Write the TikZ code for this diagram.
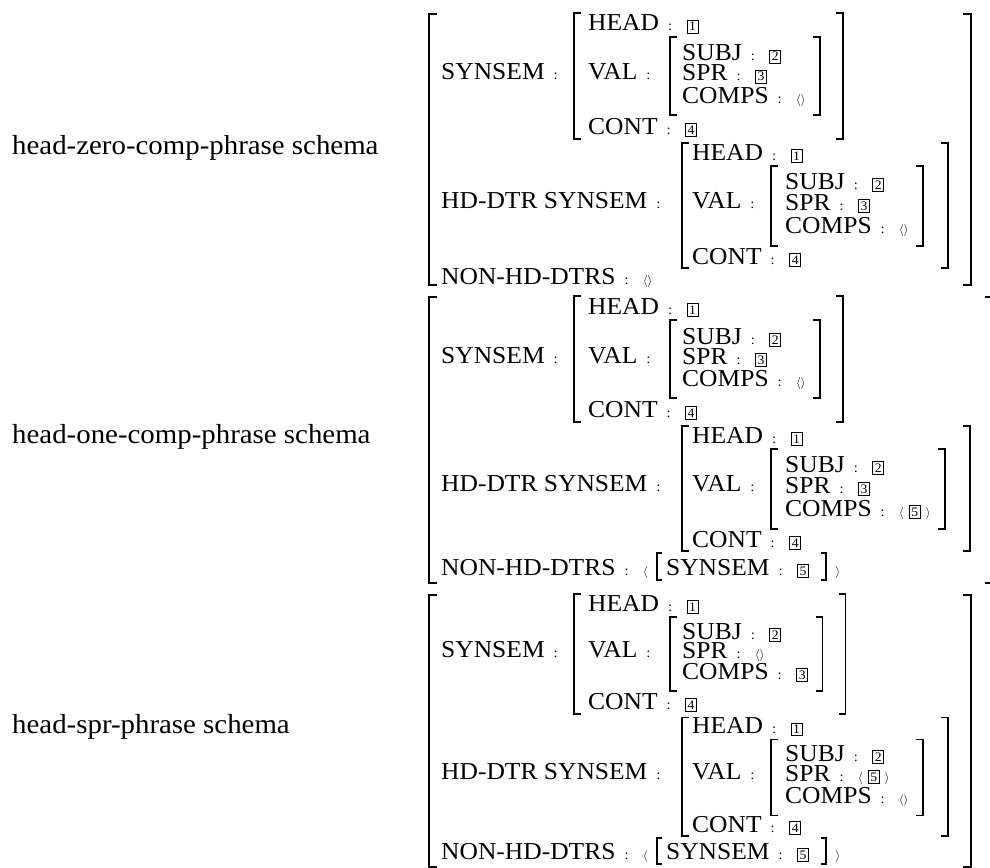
\documentclass[tikz,border=0pt]{standalone}
\usepackage{fontspec}
\setmainfont{Liberation Serif}[FakeStretch=1.05]
\usetikzlibrary{positioning,fit}

\newcommand{\avmsize}{\fontsize{24.3}{28}\selectfont}
\newcommand{\labelsize}{\fontsize{27.5}{30}\selectfont}
\newcommand{\avmcolon}{\hspace{9pt}{\fontsize{14}{14}\selectfont :}}
\newcommand{\tagno}[1]{{\setlength{\fboxsep}{1.6pt}\setlength{\fboxrule}{1pt}\fbox{\fontsize{13}{13}\selectfont #1}}}
\newcommand{\elist}{{\fontsize{12}{12}\selectfont$\langle\rangle$}}
\newcommand{\tlist}[1]{{\fontsize{12}{12}\selectfont$\langle$\hspace{5pt}\tagno{#1}\hspace{5pt}$\rangle$}}
\newcommand{\avmbr}[4]{\draw[avmline] (#1 |- 0,#2) ++(#4,0) -- (#1 |- 0,#2) -- (#1 |- 0,#3) -- ++(#4,0);}

% one schema: name, SPR, COMPS, head-daughter SPR, head-daughter COMPS, NON-HD row, bottom
\newcommand{\schema}[7]{%
  \node[attr] (#1-syn) at (441,66) {SYNSEM\avmcolon};
  \node[attr] (#1-head) at (588,17) {HEAD\avmcolon};
  \node[val, base right=14pt of #1-head] (#1-headv) {\tagno{1}};
  \node[attr] (#1-val) at (588,66) {VAL\avmcolon};
  \node[attr] (#1-subj) at (682,47) {SUBJ\avmcolon};
  \node[val, base right=14pt of #1-subj] (#1-subjv) {\tagno{2}};
  \node[attr] (#1-spr) at (682,67) {SPR\avmcolon};
  \node[val, base right=14pt of #1-spr] (#1-sprv) {#2};
  \node[attr] (#1-comps) at (682,89) {COMPS\avmcolon};
  \node[val, base right=14pt of #1-comps] (#1-compsv) {#3};
  \node[attr] (#1-cont) at (588,120) {CONT\avmcolon};
  \node[val, base right=14pt of #1-cont] (#1-contv) {\tagno{4}};
  % head daughter
  \node[attr] (#1-hsyn) at (441,194) {HD-DTR SYNSEM\avmcolon};
  \node[attr] (#1-hhead) at (692,146) {HEAD\avmcolon};
  \node[val, base right=14pt of #1-hhead] (#1-hheadv) {\tagno{1}};
  \node[attr] (#1-hval) at (692,194) {VAL\avmcolon};
  \node[attr] (#1-hsubj) at (785,175) {SUBJ\avmcolon};
  \node[val, base right=14pt of #1-hsubj] (#1-hsubjv) {\tagno{2}};
  \node[attr] (#1-hspr) at (785,196) {SPR\avmcolon};
  \node[val, base right=14pt of #1-hspr] (#1-hsprv) {#4};
  \node[attr] (#1-hcomps) at (785,219) {COMPS\avmcolon};
  \node[val, base right=14pt of #1-hcomps] (#1-hcompsv) {#5};
  \node[attr] (#1-hcont) at (692,250) {CONT\avmcolon};
  \node[val, base right=14pt of #1-hcont] (#1-hcontv) {\tagno{4}};
  \node[attr] (#1-nonhd) at (441,#6) {NON-HD-DTRS\avmcolon};
  % brackets
  \node[fit=(#1-subjv)(#1-sprv)(#1-compsv), inner sep=0pt] (#1-valfit) {};
  \node[fit=(#1-hsubjv)(#1-hsprv)(#1-hcompsv), inner sep=0pt] (#1-hvalfit) {};
  \coordinate (#1-valR) at ([xshift=14pt]#1-valfit.east);
  \coordinate (#1-synR) at ([xshift=23pt]#1-valR);
  \coordinate (#1-hvalR) at ([xshift=14pt]#1-hvalfit.east);
  \coordinate (#1-hdR) at ([xshift=25pt]#1-hvalR);
  \coordinate (#1-outR) at ([xshift=23pt]#1-hdR);
  \avmbr{429,0}{0}{#7}{8}
  \avmbr{#1-outR}{0}{#7}{-8}
  \avmbr{574,0}{-1}{125}{7}
  \avmbr{#1-synR}{-1}{125}{-7}
  \avmbr{670,0}{23}{101}{7}
  \avmbr{#1-valR}{23}{101}{-7}
  \avmbr{682,0}{129}{254}{7}
  \avmbr{#1-hdR}{129}{254}{-7}
  \avmbr{771,0}{152}{232}{7}
  \avmbr{#1-hvalR}{152}{232}{-7}
}

% NON-HD-DTRS value < [SYNSEM : 5] >
\newcommand{\nonhdsyn}[1]{%
  \node[val, base right=14pt of #1-nonhd] (#1-lang) {\fontsize{12}{12}\selectfont$\langle$};
  \node[attr, base right=18pt of #1-lang] (#1-nsyn) {SYNSEM\avmcolon};
  \node[val, base right=14pt of #1-nsyn] (#1-nsynv) {\tagno{5}};
  \node[val, base right=26pt of #1-nsynv] (#1-rang) {\fontsize{12}{12}\selectfont$\rangle$};
  \coordinate (#1-nl) at ([xshift=-9pt]#1-nsyn.base west);
  \coordinate (#1-nr) at ([xshift=17pt]#1-nsynv.base east);
  \avmbr{#1-nl}{256}{283}{5}
  \avmbr{#1-nr}{256}{283}{-5}
}

\begin{document}
\begin{tikzpicture}[x=1pt, y=-1pt,
  attr/.style={anchor=base west, inner sep=0pt, text depth=0pt, font=\avmsize},
  val/.style={anchor=base west, inner sep=0pt},
  avmline/.style={line width=1.7pt},
  schemalabel/.style={anchor=west, inner sep=0pt, font=\labelsize}
]
\path[use as bounding box, fill=white] (0,0) rectangle (990,867);

\node[schemalabel] (zero) at (12,148) {head-zero-comp-phrase schema};
\node[schemalabel] (one) at (12,437) {head-one-comp-phrase schema};
\node[schemalabel] (spr) at (12,727) {head-spr-phrase schema};

\begin{scope}[shift={(0,14)}]
  \schema{z}{\tagno{3}}{\elist}{\tagno{3}}{\elist}{270}{271}
  \node[val, base right=14pt of z-nonhd] (z-nonhdv) {\elist};
\end{scope}

\begin{scope}[shift={(0,297)}]
  \schema{o}{\tagno{3}}{\elist}{\tagno{3}}{\tlist{5}}{278}{286}
  \nonhdsyn{o}
\end{scope}

\begin{scope}[shift={(0,595)}, yscale=0.95]
  \schema{s}{\elist}{\tagno{3}}{\tlist{5}}{\elist}{278}{286}
  \nonhdsyn{s}
\end{scope}
\end{tikzpicture}
\end{document}
